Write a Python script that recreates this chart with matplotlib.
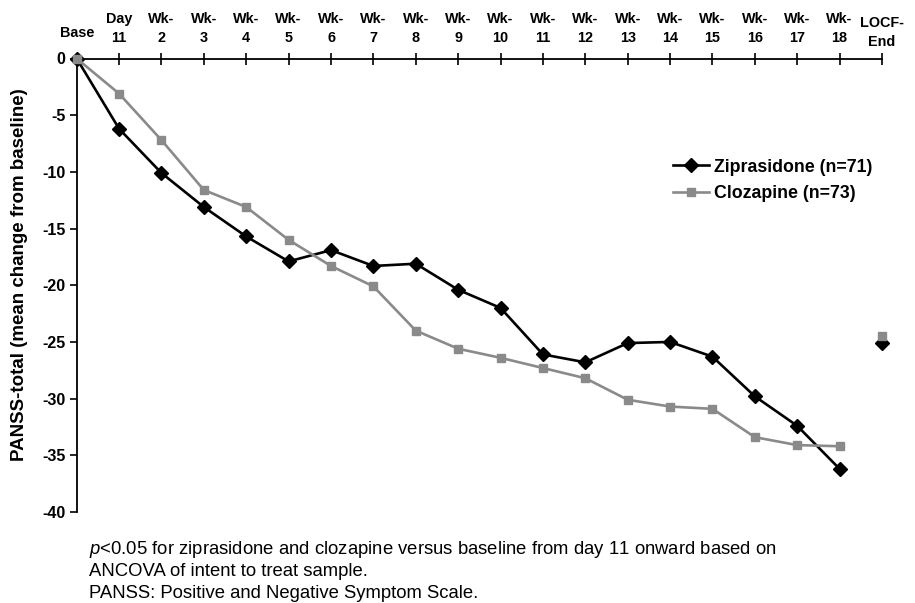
import matplotlib
matplotlib.use("Agg")
import matplotlib.pyplot as plt
import matplotlib.transforms as mtransforms

plt.rcParams['font.family'] = ['Liberation Sans', 'DejaVu Sans']
plt.rcParams['mathtext.fontset'] = 'custom'
plt.rcParams['mathtext.rm'] = 'Liberation Sans'
plt.rcParams['mathtext.it'] = 'Liberation Sans:italic'

# x positions: Base, Day 11, Wk-2 .. Wk-18, LOCF-End
tick_labels = ['Base', 'Day\n11'] + ['Wk-\n%d' % w for w in range(2, 19)] + ['LOCF-\nEnd']

# mean change from baseline, Base .. Wk-18
ziprasidone = [0, -6.2, -10.1, -13.1, -15.7, -17.9, -16.9, -18.3, -18.1, -20.4,
               -22.0, -26.1, -26.8, -25.1, -25.0, -26.3, -29.8, -32.4, -36.2]
clozapine = [0, -3.1, -7.2, -11.6, -13.1, -16.0, -18.3, -20.1, -24.0, -25.6,
             -26.4, -27.3, -28.2, -30.1, -30.7, -30.9, -33.4, -34.1, -34.2]
zip_locf = -25.1
cloz_locf = -24.5

fig = plt.figure(figsize=(9.15, 6.03), dpi=100)
ax = fig.add_axes([76.7 / 915, 1 - 512 / 603, 805.3 / 915, (512 - 58.5) / 603])

x = list(range(len(ziprasidone)))
zip_style = dict(color='black', marker='D', ms=7.5, mfc='black', mec='black')
cloz_style = dict(color='#8a8a8a', marker='s', ms=6, mfc='#8a8a8a', mec='#8a8a8a')

ax.plot(x, ziprasidone, lw=1.9, label='Ziprasidone (n=71)', **zip_style, clip_on=False, zorder=3)
ax.plot(x, clozapine, lw=1.9, label='Clozapine (n=73)', **cloz_style, clip_on=False, zorder=4)
ax.plot([len(x)], [zip_locf], ls='none', **zip_style, clip_on=False, zorder=3)
ax.plot([len(x)], [cloz_locf], ls='none', **cloz_style, clip_on=False, zorder=4)

ax.set_xlim(0, 19)
ax.set_ylim(-40, 0)
ax.spines['bottom'].set_visible(False)
ax.spines['right'].set_visible(False)
ax.spines['top'].set_linewidth(1.3)
ax.spines['left'].set_linewidth(1.3)

ax.xaxis.tick_top()
ax.set_xticks(range(20))
ax.set_xticklabels(tick_labels, fontsize=10.4, fontweight='bold', linespacing=1.45)
ax.tick_params(axis='x', direction='inout', length=8, width=1.2, pad=5.5)
ax.set_yticks(range(-40, 1, 5))
ax.set_yticklabels([str(v) for v in range(-40, 1, 5)], fontsize=11.5, fontweight='bold')
ax.tick_params(axis='y', direction='out', length=5, width=1.2, pad=3)

# Base sits a bit higher, LOCF-End a bit lower than the other labels
ticks = ax.xaxis.get_major_ticks()
for tick, dy in [(ticks[0], 5), (ticks[-1], -4)]:
    lab = tick.label2
    lab.set_transform(lab.get_transform() +
                      mtransforms.ScaledTranslation(0, dy / 100, fig.dpi_scale_trans))

ax.legend(loc='center left', bbox_to_anchor=(673 / 915, 1 - 180.5 / 603),
          bbox_transform=fig.transFigure, frameon=False, borderpad=0,
          borderaxespad=0, handlelength=2.0, handletextpad=0.3,
          labelspacing=0.55, prop={'size': 12.8, 'weight': 'bold'})

fig.text(20 / 915, 1 - 275 / 603, 'PANSS-total (mean change from baseline)',
         rotation=90, ha='center', va='center', fontsize=13.5, fontweight='bold')

foot = ['$p$<0.05 for ziprasidone and clozapine versus baseline from day 11 onward based on',
        'ANCOVA of intent to treat sample.',
        'PANSS: Positive and Negative Symptom Scale.']
for i, line in enumerate(foot):
    fig.text(89 / 915, 1 - (549 + 22 * i) / 603, line, ha='left', va='center',
             fontsize=13.3)

fig.savefig('out.png', dpi=100)
